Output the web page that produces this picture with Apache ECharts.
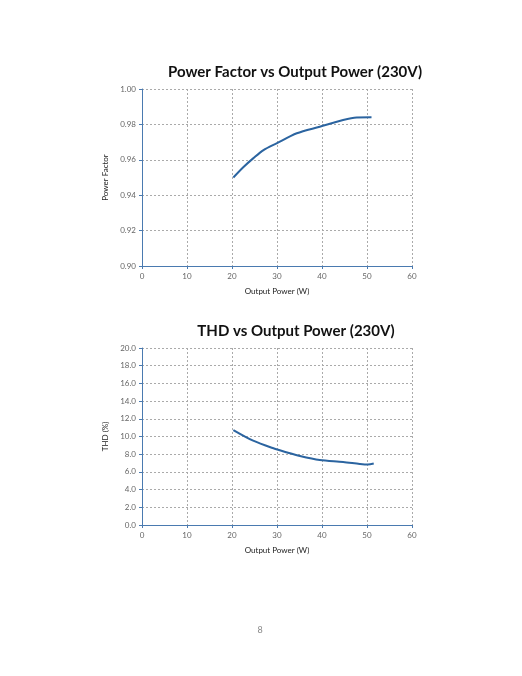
<!DOCTYPE html>
<html>
<head>
<meta charset="utf-8">
<script src="https://cdn.jsdelivr.net/npm/echarts@6/dist/echarts.min.js"></script>
<style>
html, body { margin: 0; padding: 0; background: #fff; }
#main { width: 522px; height: 676px; }
</style>
</head>
<body>
<div id="main"></div>
<script>
// values
var pfPower = [20.3, 22.5, 24.7, 27.0, 29.9, 34.4, 39.5, 44.7, 47.7, 51.0];
var pfValue = [0.950, 0.9558, 0.9608, 0.9655, 0.9693, 0.975, 0.9787, 0.9825, 0.9839, 0.984];
var thdPower = [20.3, 24.7, 29.2, 32.1, 35.1, 39.5, 44.7, 48.4, 50.2, 51.5];
var thdValue = [10.73, 9.53, 8.67, 8.22, 7.80, 7.35, 7.13, 6.90, 6.83, 6.94];
var pfTicks = [0.90, 0.92, 0.94, 0.96, 0.98, 1.00];
var thdTicks = [0, 2, 4, 6, 8, 10, 12, 14, 16, 18, 20];

var font = 'Lato, "Open Sans", sans-serif';
var blueAxis = '#4a7ab0';
var lineCol = '#2b64a0';

function pairs(xs, ys) {
    return xs.map(function (x, i) { return [x, ys[i]]; });
}

function xAxisFor(idx) {
    return {
        type: 'value', gridIndex: idx, min: 0, max: 60, interval: 10,
        name: 'Output Power (W)', nameLocation: 'middle', nameGap: 21,
        nameTextStyle: { fontFamily: font, fontSize: 8, color: '#222' },
        axisLine: { lineStyle: { color: blueAxis, width: 1 } },
        axisTick: { show: true, length: 3, lineStyle: { color: blueAxis } },
        axisLabel: { fontFamily: font, fontSize: 8, color: '#666', margin: 6 },
        splitLine: { show: true, lineStyle: { color: '#aaa', type: [2, 2] } }
    };
}

function yAxisFor(idx, min, max, interval, name, digits) {
    return {
        type: 'value', gridIndex: idx, min: min, max: max, interval: interval,
        name: name, nameLocation: 'middle', nameGap: 28, nameRotate: 90,
        nameTextStyle: { fontFamily: font, fontSize: 8, color: '#222' },
        axisLine: { show: true, lineStyle: { color: blueAxis, width: 1 } },
        axisTick: { show: true, length: 3, lineStyle: { color: blueAxis } },
        axisLabel: {
            fontFamily: font, fontSize: 8, color: '#666', margin: 6,
            formatter: function (v) { return v.toFixed(digits); }
        },
        splitLine: { show: true, lineStyle: { color: '#aaa', type: [2, 2] } }
    };
}

var chart = echarts.init(document.getElementById('main'));
chart.setOption({
    backgroundColor: '#fff',
    animation: false,
    title: [
        {
            text: 'Power Factor vs Output Power (230V)', left: 290, top: 60, textAlign: 'center',
            textStyle: { fontFamily: font, fontSize: 15, fontWeight: 'bold', color: '#111' }
        },
        {
            text: 'THD vs Output Power (230V)', left: 291, top: 319, textAlign: 'center',
            textStyle: { fontFamily: font, fontSize: 15, fontWeight: 'bold', color: '#111' }
        },
        {
            text: '8', left: 255, top: 621, textAlign: 'center',
            textStyle: { fontFamily: font, fontSize: 9, fontWeight: 'normal', color: '#888' }
        }
    ],
    grid: [
        { left: 142, top: 89, width: 270, height: 177 },
        { left: 142, top: 348, width: 270, height: 177 }
    ],
    xAxis: [xAxisFor(0), xAxisFor(1)],
    yAxis: [
        yAxisFor(0, pfTicks[0], pfTicks[pfTicks.length - 1], 0.02, 'Power Factor', 2),
        yAxisFor(1, thdTicks[0], thdTicks[thdTicks.length - 1], 2, 'THD (%)', 1)
    ],
    series: [
        {
            type: 'line', xAxisIndex: 0, yAxisIndex: 0, smooth: 0.3, showSymbol: false,
            lineStyle: { color: lineCol, width: 2 },
            data: pairs(pfPower, pfValue)
        },
        {
            type: 'line', xAxisIndex: 1, yAxisIndex: 1, smooth: 0.3, showSymbol: false,
            lineStyle: { color: lineCol, width: 2 },
            data: pairs(thdPower, thdValue)
        }
    ]
});
</script>
</body>
</html>
